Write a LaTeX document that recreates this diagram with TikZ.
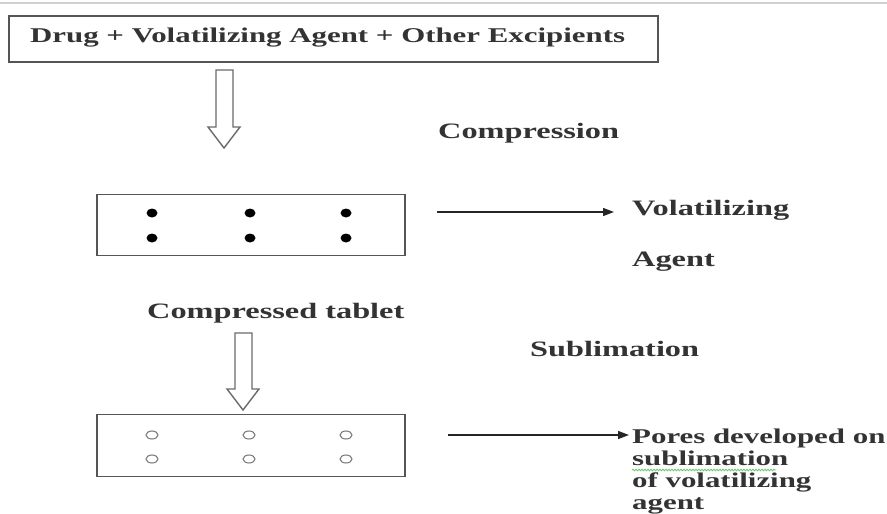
\documentclass[tikz,border=0pt]{standalone}
\usepackage{fontspec}
\setmainfont{Liberation Serif}[FakeStretch=1.47]
\usetikzlibrary{arrows.meta,decorations.pathmorphing}
\definecolor{txt}{HTML}{333333}
\definecolor{boxc}{HTML}{555555}
\definecolor{arrc}{HTML}{6A6A6A}
\tikzset{
  lbl/.style={font=\fontsize{22}{22}\selectfont\bfseries, text=txt, inner sep=0pt, anchor=base west},
  smalllbl/.style={lbl, font=\fontsize{21}{21}\selectfont\bfseries},
  tabbox/.style={draw=boxc, line width=1.8pt},
  hollow/.style={draw=arrc, line width=1.4pt, fill=white, line join=miter},
  pointer/.style={draw=black!85, line width=1.3pt, -{Triangle[length=11pt,width=8pt]}},
  filleddot/.style={fill=black},
  pore/.style={draw=black!55, line width=1pt}
}
\begin{document}
\begin{tikzpicture}[x=1pt,y=-1pt]
\useasboundingbox (0,0) rectangle (887,514);
\fill[white] (0,0) rectangle (887,514);
\draw[black!18, line width=1.2pt] (0,3) -- (887,3);

% top box
\node[tabbox, minimum width=649pt, minimum height=46pt, anchor=north west, inner sep=0pt] (top) at (8,15) {};
\node[smalllbl] (toptxt) at (30,42) {Drug + Volatilizing Agent + Other Excipients};

% hollow arrow 1
\draw[hollow] (216,70) -- (233,70) -- (233,127) -- (240,127) -- (224,148) -- (208,127) -- (216,127) -- cycle;
\node[lbl] (comp) at (438,138) {Compression};

% middle box
\node[tabbox, minimum width=308pt, minimum height=61pt, anchor=north west, inner sep=0pt] (mid) at (96,193.5) {};
\foreach \x in {152,250,346}{
  \fill[filleddot] (\x,213) ellipse (5.5pt and 4.5pt);
  \fill[filleddot] (\x,238) ellipse (5.5pt and 4.5pt);
}
\coordinate (p1s) at (437,212);
\coordinate (p1e) at (614,212);
\draw[pointer] (p1s) -- (p1e);
\node[lbl] (vol) at (632,215) {Volatilizing};
\node[lbl] (agent) at (632,266) {Agent};

\node[lbl] (ctab) at (147,318) {Compressed tablet};

% hollow arrow 2
\draw[hollow] (235,333) -- (252,333) -- (252,389) -- (259,389) -- (243,410) -- (227,389) -- (235,389) -- cycle;
\node[lbl] (subl) at (530,356) {Sublimation};

% bottom box
\node[tabbox, minimum width=308pt, minimum height=62pt, anchor=north west, inner sep=0pt] (bot) at (96,413.5) {};
\foreach \x in {152,249,346}{
  \draw[pore] (\x,435) ellipse (6pt and 4pt);
  \draw[pore] (\x,459) ellipse (6pt and 4pt);
}
\coordinate (p2s) at (448,435);
\coordinate (p2e) at (629,435);
\draw[pointer] (p2s) -- (p2e);
\node[smalllbl] (pores1) at (632,443) {Pores developed on};
\node[smalllbl] (pores2) at (632,465) {sublimation};
\node[smalllbl] (pores3) at (632,487) {of volatilizing};
\node[smalllbl] (pores4) at (632,509) {agent};
\draw[green!45!gray!80, line width=0.8pt, decorate, decoration={snake, amplitude=0.8pt, segment length=3pt}] (632,470) -- (776,470);
\end{tikzpicture}
\end{document}
